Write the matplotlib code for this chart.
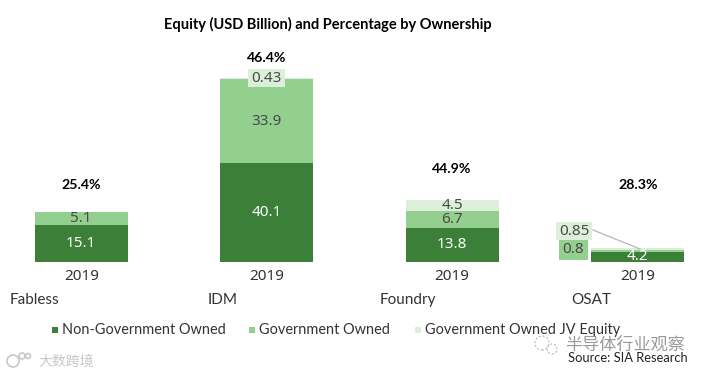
import matplotlib
matplotlib.use("Agg")
import matplotlib.pyplot as plt
from matplotlib.patches import Rectangle, Circle
from matplotlib.lines import Line2D

categories = ["Fabless", "IDM", "Foundry", "OSAT"]
years = ["2019", "2019", "2019", "2019"]
non_gov = [15.1, 40.1, 13.8, 4.2]
gov = [5.1, 33.9, 6.7, 0.8]
gov_jv = [0.0, 0.43, 4.5, 0.85]
pct = ["25.4%", "46.4%", "44.9%", "28.3%"]
non_gov_lbl = ["15.1", "40.1", "13.8", "4.2"]
gov_lbl = ["5.1", "33.9", "6.7", "0.8"]
jv_lbl = ["", "0.43", "4.5", "0.85"]
series_names = ["Non-Government Owned", "Government Owned", "Government Owned JV Equity"]

DARK, MID, LIGHT = "#3c7f38", "#93d08f", "#dcefd9"
TXT = "#4a4a4a"
W, H = 706, 376
plt.rcParams["font.family"] = ["Lato", "DejaVu Sans"]
fig = plt.figure(figsize=(W/100, H/100), dpi=100)

ax = fig.add_axes([0, 0, 1, 1])
step, x0 = 185.4, 81.3
ax.set_xlim((0-x0)/step, (W-x0)/step)
scale, base = 2.47, 262
ax.set_ylim((H-base)/-scale, base/scale)
ax.axis("off")
xs = list(range(len(categories)))
bw = 93/step

ax.bar(xs, non_gov, bw, color=DARK)
ax.bar(xs, gov, bw, bottom=non_gov, color=MID)
tops = [a+b for a, b in zip(non_gov, gov)]
ax.bar(xs, gov_jv, bw, bottom=tops, color=LIGHT)

def px(x, y, s, **k):
    k.setdefault("ha", "center"); k.setdefault("va", "center")
    k.setdefault("color", "#333333"); k.setdefault("fontsize", 11)
    return fig.text(x/W, 1-y/H, s, **k)

def box(x0_, y0_, x1_, y1_, c):
    fig.add_artist(Rectangle((x0_/W, 1-y1_/H), (x1_-x0_)/W, (y1_-y0_)/H, fc=c, ec="none",
                             transform=fig.transFigure, zorder=4))

LBL = dict(ha="center", va="center", fontsize=11, fontfamily="Noto Sans")
for i in xs:
    ax.text(i, non_gov[i]/2, non_gov_lbl[i], color="white", **LBL)
    if i != 3:
        ax.text(i, non_gov[i]+gov[i]/2, gov_lbl[i], color=TXT, **LBL)
    if i == 2:
        ax.text(i, tops[i]+gov_jv[i]/2, jv_lbl[i], color=TXT, **LBL)
    px(x0+i*step, 277, years[i], fontsize=11, fontfamily="Noto Sans")

box(248, 69, 285, 87, LIGHT)
px(266.5, 78, jv_lbl[1], color=TXT, zorder=5, fontsize=11, fontfamily="Noto Sans")
box(556, 222, 592, 240, LIGHT)
px(574, 231, jv_lbl[3], color=TXT, zorder=5, fontsize=11, fontfamily="Noto Sans")
box(559, 240, 588, 260, MID)
px(573.5, 249.5, gov_lbl[3], color=TXT, zorder=5, fontsize=11, fontfamily="Noto Sans")
fig.add_artist(Line2D([593/W, 640/W], [1-230/H, 1-249/H], color="#b5b5b5", lw=0.9, zorder=6))

for x, y, s in zip([81, 267, 452, 638], [185, 58, 169, 185], pct):
    px(x, y, s, fontweight="bold", color="black", fontsize=10.2)

px(164, 24, "Equity (USD Billion) and Percentage by Ownership", ha="left", fontweight="bold", color="black", fontsize=10.5)

for x, s in zip([10, 208, 380, 571], categories):
    px(x, 300, s, ha="left", fontsize=11)

for sx, tx, c, s in zip([52, 249, 415], [62, 259, 425], [DARK, MID, LIGHT], series_names):
    box(sx, 327, sx+6, 333, c)
    px(tx, 330, s, ha="left", fontsize=10.45)

# watermarks and source
px(565, 345, "半导体行业观察", ha="left", fontsize=12.3, color="#9a9a9a",
   fontfamily=["Noto Sans CJK SC", "DejaVu Sans"])
px(688, 358, "Source: SIA Research", ha="right", fontsize=9.3, color="#222222", zorder=5)
px(38, 362, "大数跨境", ha="left", fontsize=10, color="#c8c8c8",
   fontfamily=["Noto Sans CJK SC", "DejaVu Sans"])
for cx, cy, r in [(542, 343, 7), (552, 349, 5)]:
    fig.add_artist(Circle((cx, H-cy), r, transform=None, fc="none", ec="#aaaaaa", lw=0.7, ls=(0, (2, 2))))
for cx, cy, r in [(13, 361, 6), (22, 356, 3), (28, 356, 2.5)]:
    fig.add_artist(Circle((cx, H-cy), r, transform=None, fc="none", ec="#c8c8c8", lw=1.2))
fig.savefig("out.png", dpi=100, facecolor="white")
